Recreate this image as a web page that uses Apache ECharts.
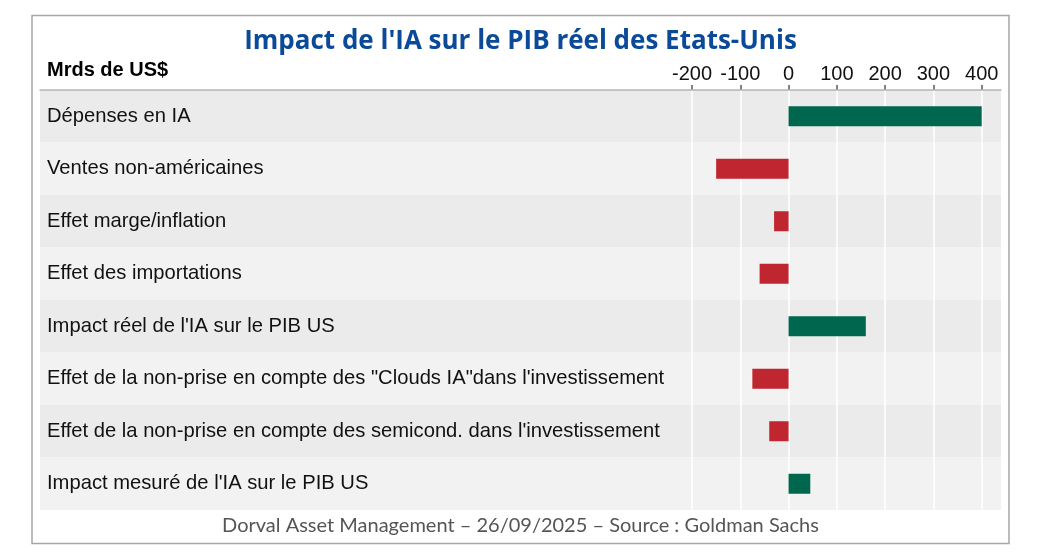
<!DOCTYPE html>
<html><head><meta charset="utf-8">
<script src="https://cdn.jsdelivr.net/npm/echarts@6/dist/echarts.min.js"></script>
<style>html,body{margin:0;padding:0;background:#fff}#c{width:1041px;height:560px}</style>
</head><body><div id="c"></div>
<script>
const categories = [
  "Dépenses en IA",
  "Ventes non-américaines",
  "Effet marge/inflation",
  "Effet des importations",
  "Impact réel de l'IA sur le PIB US",
  "Effet de la non-prise en compte des \"Clouds IA\"dans l'investissement",
  "Effet de la non-prise en compte des semicond. dans l'investissement",
  "Impact mesuré de l'IA sur le PIB US"
];
const values = [400, -150, -30, -60, 160, -75, -40, 45];
const titleText = "Impact de l'IA sur le PIB réel des Etats-Unis";
const unitText = "Mrds de US$";
const footerText = "Dorval Asset Management – 26/09/2025 – Source : Goldman Sachs";

const GREEN = '#00674f', RED = '#bf2630';
const chart = echarts.init(document.getElementById('c'));
chart.setOption({
  animation: false,
  title: [
    {text: titleText, left: 'center', top: 24,
     textStyle: {fontFamily: 'Open Sans', fontWeight: 'bold', fontSize: 26, color: '#0b4a98'}},
    {text: footerText, left: 'center', top: 511,
     textStyle: {fontFamily: 'Lato', fontWeight: 'normal', fontSize: 20, color: '#555'}}
  ],
  graphic: [
    {type: 'rect', shape: {x: 32, y: 15.5, width: 977, height: 528}, silent: true, z: -10,
     style: {fill: 'none', stroke: '#a6a6a6', lineWidth: 1.5}},
    {type: 'text', left: 47, top: 60, silent: true,
     style: {text: unitText, font: 'bold 20px "Liberation Sans"', fill: '#000'}}
  ],
  grid: [
    {left: 40, right: 40, top: 90, bottom: 50},
    {left: 692, right: 40, top: 90, bottom: 50}
  ],
  xAxis: [
    {gridIndex: 0, type: 'value', position: 'top', min: 0, max: 1, z: 3,
     axisLine: {show: true, lineStyle: {color: '#b5b5b5', width: 1.5}},
     axisTick: {show: false}, axisLabel: {show: false}, splitLine: {show: false}},
    {gridIndex: 1, type: 'value', position: 'top', min: -200, max: 440, interval: 100, z: 2,
     axisLine: {show: false},
     axisTick: {show: true, length: 5, inside: false, lineStyle: {color: '#595959', width: 1.5}},
     axisLabel: {showMaxLabel: false, margin: 6, fontFamily: 'Liberation Sans', fontSize: 20, color: '#111'},
     splitLine: {show: true, showMaxLine: false, lineStyle: {color: '#ffffff', width: 1.5}}}
  ],
  yAxis: [
    {gridIndex: 0, type: 'category', data: categories, inverse: true, z: 0,
     axisLine: {show: false}, axisTick: {show: false},
     axisLabel: {inside: true, margin: 7, padding: [4, 0, 0, 0], fontFamily: 'Liberation Sans', fontSize: 20.2, color: '#111'},
     splitArea: {show: true, areaStyle: {color: ['#ebebeb', '#f2f2f2']}}},
    {gridIndex: 1, type: 'category', data: categories, inverse: true,
     axisLine: {show: false}, axisTick: {show: false}, axisLabel: {show: false}}
  ],
  series: [{
    type: 'bar', xAxisIndex: 1, yAxisIndex: 1, data: values, barWidth: 20, z: 5,
    itemStyle: {color: p => p.value < 0 ? RED : GREEN}
  }]
});
</script></body></html>
